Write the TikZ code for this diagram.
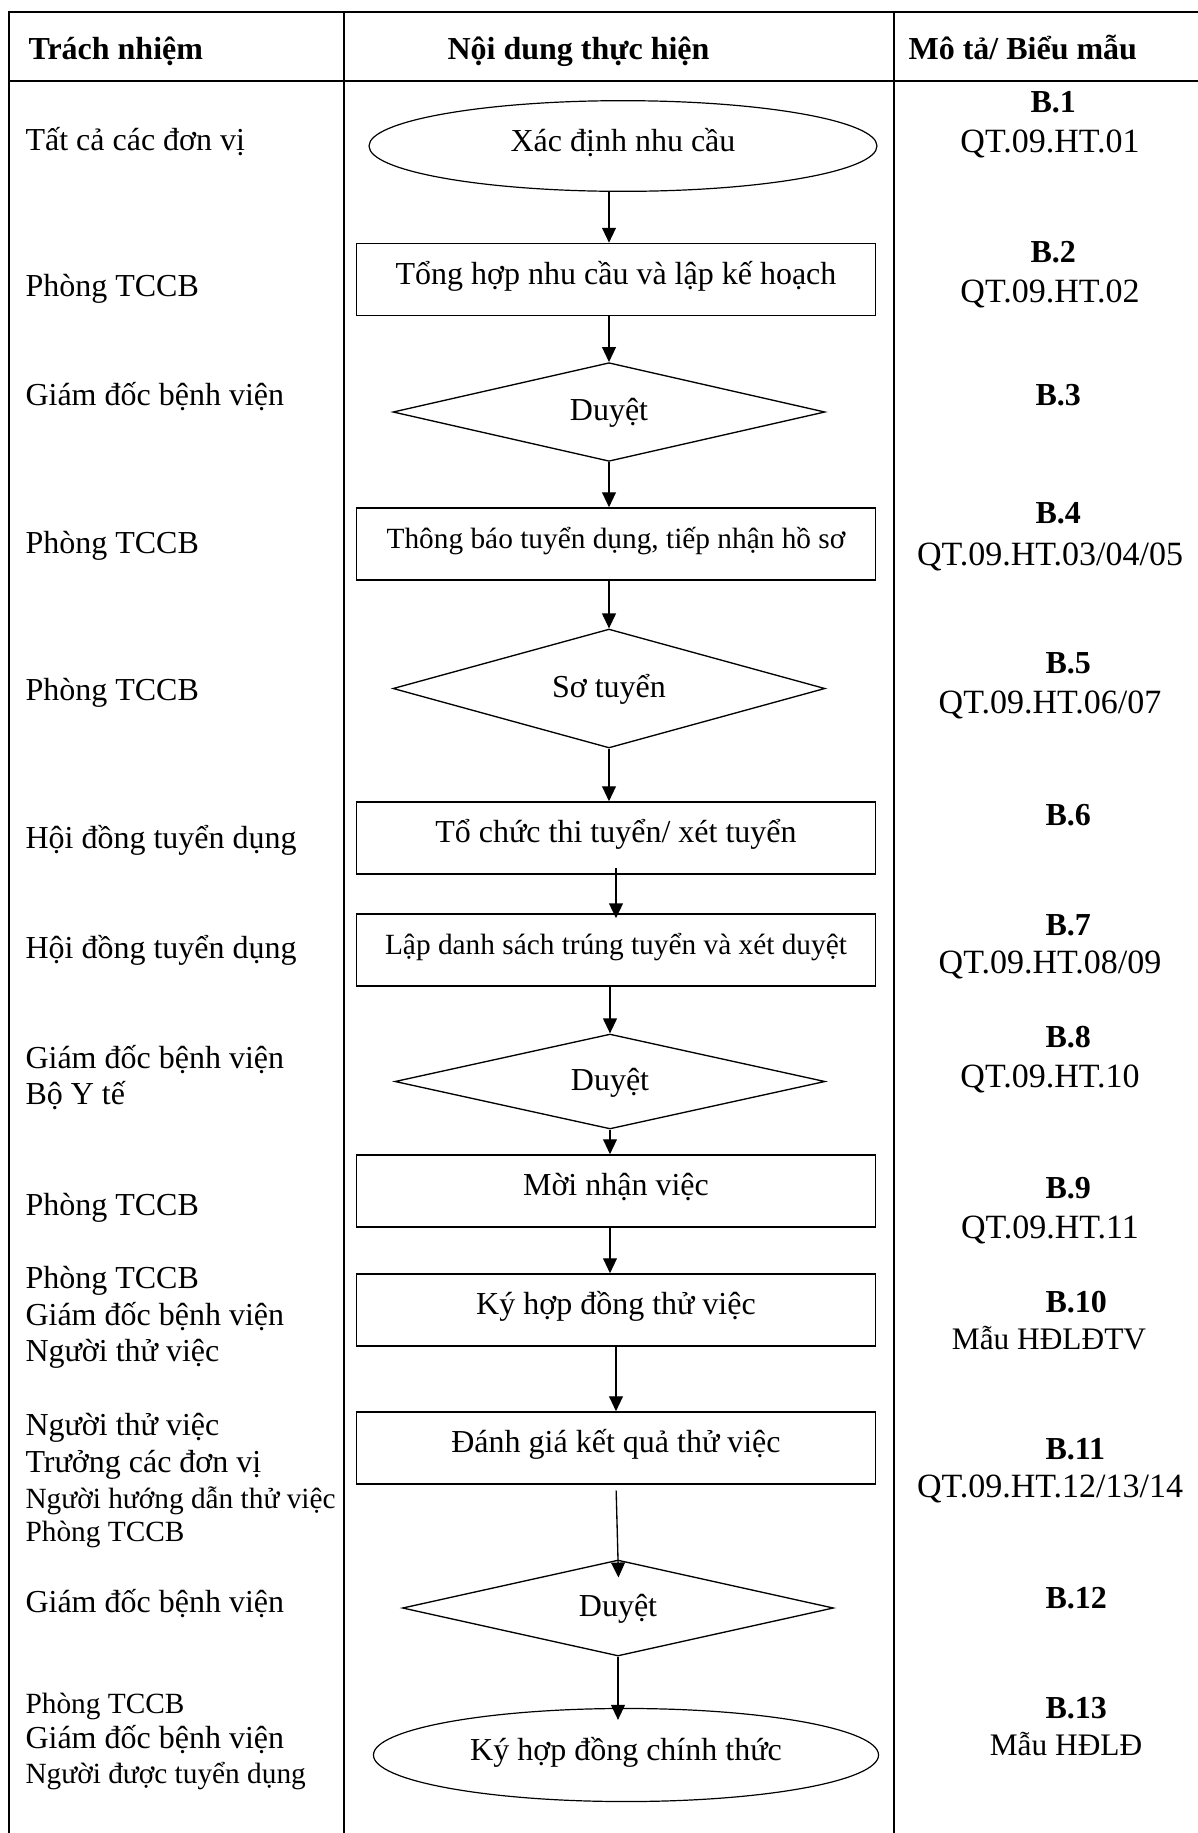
\documentclass[tikz,border=0pt]{standalone}
\usepackage{fontspec}
\setmainfont{Liberation Serif}
\usetikzlibrary{shapes.geometric}
\usetikzlibrary{arrows.meta}

\newcommand{\nsize}{\fontsize{12}{14}\selectfont}
\newcommand{\ssize}{\fontsize{11}{13}\selectfont}
\newcommand{\qsize}{\fontsize{12.75}{14}\selectfont}

\begin{document}
\begin{tikzpicture} [x=0.375pt, y=-0.375pt,
  box/.style={draw, line width=.6pt, minimum width=194.6pt, minimum height=27pt, inner sep=0, text height=8pt, text depth=4.5pt, font=\nsize},
  choice/.style={diamond, aspect=4, draw, line width=.5pt, minimum width=162pt, inner sep=0, text height=8pt, text depth=1.5pt, font=\nsize},
  term/.style={ellipse, draw, line width=.45pt, minimum width=190.5pt, minimum height=34pt, inner sep=0, text height=8pt, text depth=4pt, font=\nsize},
  flow/.style={line width=.5pt, -{Triangle[length=5.6pt,width=5.2pt]}},
  head/.style={anchor=base west, inner sep=0, font=\nsize\bfseries},
  duty/.style={anchor=base west, inner sep=0},
  code/.style={anchor=base west, inner sep=0, font=\nsize\bfseries},
  form/.style={anchor=base, inner sep=0, font=\qsize}]
\useasboundingbox (0,0) rectangle (1198,1833);

% table
\draw[line width=.75pt] (9,1833) -- (9,12) -- (1198,12);
\draw[line width=.75pt] (9,81) -- (1198,81);
\draw[line width=.75pt] (344,12) -- (344,1833);
\draw[line width=.75pt] (894,12) -- (894,1833);
\node[head] (h1) at (28,59) {Trách nhiệm};
\node[head] (h2) at (447,59) {Nội dung thực hiện};
\node[head] (h3) at (908,59) {Mô tả/ Biểu mẫu};

% steps
\node[term] (ell1) at (623,146) {Xác định nhu cầu};
\node[box] (box2) at (616,279.5) {Tổng hợp nhu cầu và lập kế hoạch};
\node[choice, minimum height=37pt] (dia1) at (609,412) {Duyệt};
\node[box, font=\ssize] (box4) at (616,544) {Thông báo tuyển dụng, tiếp nhận hồ sơ};
\node[choice, minimum height=44.6pt] (dia2) at (609,688.5) {Sơ tuyển};
\node[box] (box6) at (616,838) {Tổ chức thi tuyển/ xét tuyển};
\node[box, font=\ssize] (box7) at (616,950) {Lập danh sách trúng tuyển và xét duyệt};
\node[choice, minimum width=161.3pt, minimum height=35.6pt] (dia3) at (610,1081.5) {Duyệt};
\node[box] (box9) at (616,1191) {Mời nhận việc};
\node[box] (box10) at (616,1310) {Ký hợp đồng thử việc};
\node[box] (box11) at (616,1448) {Đánh giá kết quả thử việc};
\node[choice, minimum width=161.6pt, minimum height=36pt] (dia4) at (618,1608) {Duyệt};
\node[term, minimum width=189.4pt, minimum height=34.9pt] (ell2) at (626,1755) {Ký hợp đồng chính thức};

\draw[flow] (ell1.south -| dia1) -- (box2.north -| dia1);
\draw[flow] (box2.south -| dia1) -- (dia1.north);
\draw[flow] (dia1.south) -- (box4.north -| dia1);
\draw[flow] (box4.south -| dia1) -- (dia2.north);
\draw[flow] (dia2.south) -- (box6.north -| dia2);
\draw[flow, shorten >=-1.9pt] ([yshift=2.6pt]box6.south) -- (box7.north);
\draw[flow] (box7.south -| dia3) -- (dia3.north);
\draw[flow] (dia3.south) -- (box9.north -| dia3);
\draw[flow] (box9.south -| dia3) -- (box10.north -| dia3);
\draw[flow] (box10.south) -- (box11.north);
\draw[flow, shorten <=2.2pt, shorten >=-6.8pt] (box11.south) -- (dia4.north);
\draw[flow, shorten >=-4.5pt] (dia4.south) -- (ell2.north -| dia4);

% responsibilities
\foreach \y/\txt/\fs [count=\i] in {150/Tất cả các đơn vị/\nsize, 296/Phòng TCCB/\nsize,
  405/Giám đốc bệnh viện/\nsize, 553/Phòng TCCB/\nsize, 700/Phòng TCCB/\nsize,
  848/Hội đồng tuyển dụng/\nsize, 958/Hội đồng tuyển dụng/\nsize,
  1068/Giám đốc bệnh viện/\nsize, 1104/Bộ Y tế/\nsize, 1215/Phòng TCCB/\nsize,
  1288/Phòng TCCB/\nsize, 1325/Giám đốc bệnh viện/\nsize, 1361/Người thử việc/\nsize,
  1435/Người thử việc/\nsize, 1472/Trưởng các đơn vị/\nsize,
  1508/Người hướng dẫn thử việc/\ssize, 1541/Phòng TCCB/\ssize,
  1612/Giám đốc bệnh viện/\nsize, 1713/Phòng TCCB/\ssize,
  1748/Giám đốc bệnh viện/\nsize, 1783/Người được tuyển dụng/\ssize}
  \node[duty] (duty\i) at (25,\y) {\fs\txt};

% forms
\foreach \y/\txt/\x [count=\i] in {112/B.1/1030, 262/B.2/1030, 405/B.3/1035, 523/B.4/1035,
  673/B.5/1045, 825/B.6/1045, 935/B.7/1045, 1047/B.8/1045, 1198/B.9/1045,
  1312/B.10/1045, 1459/B.11/1045, 1608/B.12/1045, 1718/B.13/1045}
  \node[code] (code\i) at (\x,\y) {\txt};
\foreach \y/\txt [count=\i] in {152/QT.09.HT.01, 302/QT.09.HT.02, 565/{QT.09.HT.03/04/05},
  713/{QT.09.HT.06/07}, 973/{QT.09.HT.08/09}, 1087/QT.09.HT.10, 1238/QT.09.HT.11,
  1497/{QT.09.HT.12/13/14}}
  \node[form] (form\i) at (1050,\y) {\txt};
\node[form, font=\fontsize{11.75}{14}\selectfont] (tmpl1) at (1049,1349) {Mẫu HĐLĐTV};
\node[form, font=\fontsize{11.75}{14}\selectfont] (tmpl2) at (1066,1755) {Mẫu HĐLĐ};
\end{tikzpicture}
\end{document}
